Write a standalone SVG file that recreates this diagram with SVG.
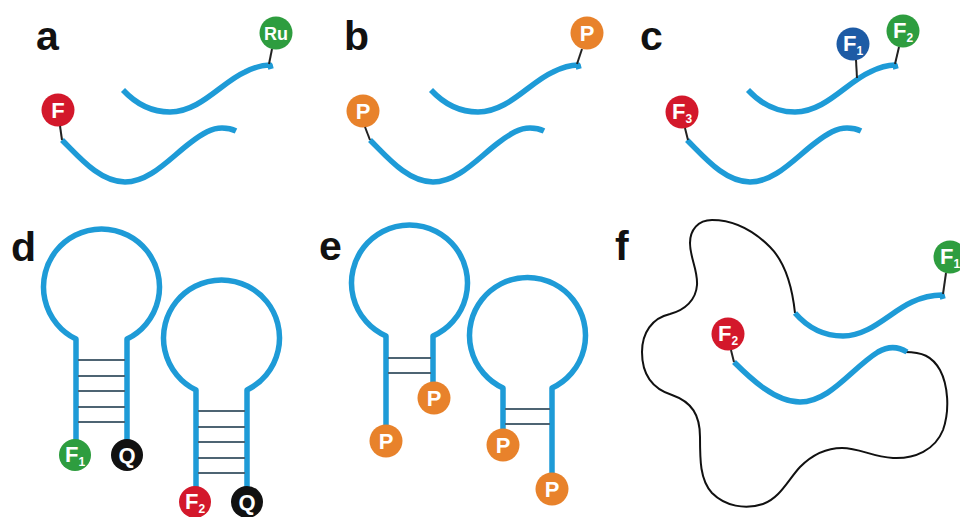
<svg xmlns="http://www.w3.org/2000/svg" width="960" height="517" viewBox="0 0 960 517">
<style>
.lbl{font-family:"Liberation Sans",Arial,sans-serif;font-weight:bold;font-size:41px;fill:#111}
.strand{fill:none;stroke:#1E9BD7;stroke-width:5.5;stroke-linecap:butt;stroke-linejoin:round}
.stub{fill:none;stroke:#222;stroke-width:2}
.rung{fill:none;stroke:#4E6473;stroke-width:2}
.blob{fill:none;stroke:#111;stroke-width:2}
.ct{font-family:"Liberation Sans",Arial,sans-serif;font-weight:bold;font-size:22px;fill:#fff;text-anchor:middle}
.sub{font-size:12px}
.red{fill:#D3182B}.green{fill:#2E9D3F}.orange{fill:#E8822B}.dblue{fill:#1D5BA5}.black{fill:#111}
</style>
<rect width="960" height="517" fill="#fff"/>

<!-- panel labels -->
<g id="labels">
<text class="lbl" x="36" y="50">a</text>
<text class="lbl" x="344" y="50">b</text>
<text class="lbl" x="640" y="50">c</text>
<text class="lbl" x="11" y="261">d</text>
<text class="lbl" x="319" y="260">e</text>
<text class="lbl" x="615" y="260">f</text>
</g>

<!-- panel a -->
<g id="panel-a">
<g id="a-strand-top"><path class="strand" d="M123,90 C137,105 152,112 170,112 C200,112 222,82 245,72 C255,67 262,65 270,65 L271,69"/></g>
<g id="a-strand-bottom"><path class="strand" d="M62,140 C80,158 100,182 125,182 C150,182 170,158 190,143 C203,133 212,128 222,128 C228,128 232,129 236,131"/></g>
<g id="a-Ru"><circle class="green" cx="276" cy="33" r="16.5"/><text class="ct" x="276" y="39.5" style="font-size:18px">Ru</text></g>
<g id="a-F"><circle class="red" cx="58" cy="110" r="16.5"/><text class="ct" x="58" y="118">F</text></g>
</g>

<!-- panel b -->
<g id="panel-b" transform="translate(308,0)">
<g id="b-strand-top"><path class="strand" d="M123,90 C137,105 152,112 170,112 C200,112 222,82 245,72 C255,67 262,65 270,65 L271,69"/></g>
<g id="b-strand-bottom"><path class="strand" d="M62,140 C80,158 100,182 125,182 C150,182 170,158 190,143 C203,133 212,128 222,128 C228,128 232,129 236,131"/></g>
<g id="b-P-top"><circle class="orange" cx="279" cy="33" r="16.5"/><text class="ct" x="279" y="41">P</text></g>
<g id="b-P-bottom"><circle class="orange" cx="55" cy="111" r="16.5"/><text class="ct" x="55" y="119">P</text></g>
</g>

<!-- panel c -->
<g id="panel-c" transform="translate(625,0)">
<g id="c-strand-top"><path class="strand" d="M123,90 C137,105 152,112 170,112 C200,112 222,82 245,72 C255,67 262,65 270,65 L271,69"/></g>
<g id="c-strand-bottom"><path class="strand" d="M62,140 C80,158 100,182 125,182 C150,182 170,158 190,143 C203,133 212,128 222,128 C228,128 232,129 236,131"/></g>
<g id="c-F1"><circle class="dblue" cx="228" cy="44" r="16.5"/><text class="ct" x="228" y="51">F<tspan class="sub" dy="4">1</tspan></text></g>
<g id="c-F2"><circle class="green" cx="278" cy="31" r="16.5"/><text class="ct" x="278" y="38">F<tspan class="sub" dy="4">2</tspan></text></g>
<g id="c-F3"><circle class="red" cx="57" cy="112" r="16.5"/><text class="ct" x="57" y="119">F<tspan class="sub" dy="4">3</tspan></text></g>
</g>

<!-- panel d -->
<g id="panel-d">
<g id="d-hairpin1">
<path class="strand" d="M76,440 L76,339 A58,58 0 1 1 127,339 L127,440"/>
<g class="rung"><path d="M78,360H125M78,376H125M78,391H125M78,407H125M78,422H125"/></g>
</g>
<g id="d-hairpin2">
<path class="strand" d="M196,487 L196,390 A58,58 0 1 1 247,390 L247,487"/>
<g class="rung"><path d="M198,411H245M198,427H245M198,442H245M198,458H245M198,473H245"/></g>
</g>
<g id="d-F1"><circle class="green" cx="75" cy="455" r="16"/><text class="ct" x="75" y="462">F<tspan class="sub" dy="4">1</tspan></text></g>
<g id="d-Q1"><circle class="black" cx="127" cy="455" r="16"/><text class="ct" x="127" y="463">Q</text></g>
<g id="d-F2"><circle class="red" cx="195" cy="502" r="16"/><text class="ct" x="195" y="509">F<tspan class="sub" dy="4">2</tspan></text></g>
<g id="d-Q2"><circle class="black" cx="247" cy="502" r="16"/><text class="ct" x="247" y="510">Q</text></g>
</g>

<!-- panel e -->
<g id="panel-e">
<g id="e-hairpin1">
<path class="strand" d="M386,426 L386,336 A58,58 0 1 1 433,336 L433,383"/>
<g class="rung"><path d="M388,358H431M388,373H431"/></g>
</g>
<g id="e-hairpin2">
<path class="strand" d="M503,430 L503,388 A58,58 0 1 1 552,388 L552,474"/>
<g class="rung"><path d="M505,409H550M505,424H550"/></g>
</g>
<g id="e-P1"><circle class="orange" cx="434" cy="398" r="16.5"/><text class="ct" x="434" y="406">P</text></g>
<g id="e-P2"><circle class="orange" cx="386" cy="441" r="16.5"/><text class="ct" x="386" y="449">P</text></g>
<g id="e-P3"><circle class="orange" cx="503" cy="445" r="16.5"/><text class="ct" x="503" y="453">P</text></g>
<g id="e-P4"><circle class="orange" cx="552" cy="489" r="16.5"/><text class="ct" x="552" y="497">P</text></g>
</g>

<!-- panel f -->
<g id="panel-f">
<g id="f-blob"><path class="blob" d="M795,313 C792,285 785,262 770,247 C755,232 735,220 712,220 C698,220 690,230 690,243 C690,258 698,270 697,285 C696,300 685,310 670,314 C652,318 642,333 642,352 C642,372 650,388 672,395 C692,402 700,415 700,437 C700,460 700,480 712,493 C725,506 745,510 763,504 C780,498 788,480 800,467 C812,455 825,448 842,448 C860,448 872,457 893,458 C915,459 935,450 943,430 C950,410 948,385 940,370 C932,356 922,352 905,352"/></g>
<g id="f-strand-top"><path class="strand" d="M795,313 C808,328 825,336 843,336 C870,336 890,312 912,302 C925,296 934,295 942,295 L943,299"/></g>
<g id="f-strand-bottom"><path class="strand" d="M734,362 C750,378 775,402 800,402 C830,402 852,368 878,352 C890,345 899,347 907,352"/></g>
<g id="f-F1"><circle class="green" cx="950" cy="257" r="16.5"/><text class="ct" x="950" y="264">F<tspan class="sub" dy="4">1</tspan></text></g>
<g id="f-F2"><circle class="red" cx="728" cy="334" r="16.5"/><text class="ct" x="728" y="341">F<tspan class="sub" dy="4">2</tspan></text></g>
</g>

<!-- connectors: stubs linking labels to strands -->
<g id="connectors">
<path class="stub" d="M272,49 L269,64"/>
<path class="stub" d="M60,126 L62,140"/>
<path class="stub" d="M582,49 L577,64"/>
<path class="stub" d="M365,127 L370,140"/>
<path class="stub" d="M856,60 L857,78"/>
<path class="stub" d="M899,47 L895,64"/>
<path class="stub" d="M685,128 L688,140"/>
<path class="stub" d="M946,273 L943,294"/>
<path class="stub" d="M731,350 L734,362"/>
</g>
</svg>
